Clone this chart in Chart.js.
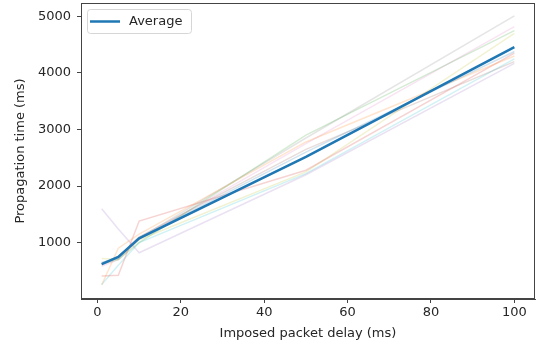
<!DOCTYPE html>
<html>
<head>
<meta charset="utf-8">
<script src="https://cdn.jsdelivr.net/npm/chart.js@4/dist/chart.umd.min.js"></script>
<style>
  html, body { margin: 0; padding: 0; background: #fff; }
  #wrap { width: 539px; height: 350px; }
</style>
</head>
<body>
<div id="wrap"><canvas id="propChart"></canvas></div>
<script>
// imposed packet delay (ms)
var delays = [1, 5, 10, 50, 100];

// single runs, in tab10 colour order
var run0 = [650, 720, 1080, 2600, 4380];
var run1 = [250, 900, 1150, 2780, 4300];
var run2 = [620, 700, 1000, 2900, 4750];
var run3 = [410, 420, 1380, 2280, 4350];
var run4 = [1600, 1240, 820, 2200, 4170];
var run5 = [600, 750, 1100, 2650, 4200];
var run6 = [580, 700, 1060, 2750, 4820];
var run7 = [640, 750, 1080, 2850, 5010];
var run8 = [720, 700, 1050, 2250, 4700];
var run9 = [260, 600, 1000, 2220, 4250];
var runs = [run0, run1, run2, run3, run4, run5, run6, run7, run8, run9];

var average = [620, 745, 1074, 2516, 4459];

var xTicks = [0, 20, 40, 60, 80, 100];
var yTicks = [1000, 2000, 3000, 4000, 5000];

var runColors = [
  'rgba(31, 119, 180, 0.2)',
  'rgba(255, 127, 14, 0.2)',
  'rgba(44, 160, 44, 0.2)',
  'rgba(214, 39, 40, 0.2)',
  'rgba(148, 103, 189, 0.2)',
  'rgba(140, 86, 75, 0.2)',
  'rgba(227, 119, 194, 0.2)',
  'rgba(127, 127, 127, 0.2)',
  'rgba(188, 189, 34, 0.2)',
  'rgba(23, 190, 207, 0.2)',
];

function toPoints(ys) {
  return ys.map(function (y, i) { return { x: delays[i], y: y }; });
}

var datasets = [{
  label: 'Average',
  data: toPoints(average),
  borderColor: '#1f77b4',
  backgroundColor: '#1f77b4',
  borderWidth: 2.5,
  order: 0,
}];
runs.forEach(function (r, i) {
  datasets.push({
    label: 'run ' + i,
    data: toPoints(r),
    borderColor: runColors[i],
    backgroundColor: runColors[i],
    borderWidth: 1.5,
    order: 1,
  });
});

// full box round the plot area, and a matplotlib-style legend in the corner
var boxPlugin = {
  id: 'box',
  afterDraw: function (chart) {
    var ctx = chart.ctx, a = chart.chartArea;
    ctx.save();
    ctx.strokeStyle = '#444';
    ctx.lineWidth = 1;
    ctx.strokeRect(Math.round(a.left) + 0.5, Math.round(a.top) + 0.5,
      Math.round(a.right - a.left) - 1, Math.round(a.bottom - a.top) - 1);

    // legend
    var ds = chart.data.datasets[0];
    var x = a.left + 6, y = a.top + 6;
    ctx.fillStyle = 'rgba(255,255,255,0.8)';
    ctx.strokeStyle = '#d6d6d6';
    ctx.beginPath();
    ctx.roundRect(x + 0.5, y + 0.5, 104, 24, 3);
    ctx.fill();
    ctx.stroke();
    ctx.strokeStyle = ds.borderColor;
    ctx.lineWidth = 2.5;
    ctx.beginPath();
    ctx.moveTo(x + 3, y + 12.5);
    ctx.lineTo(x + 33, y + 12.5);
    ctx.stroke();
    ctx.fillStyle = '#262626';
    ctx.font = '13px "DejaVu Sans", sans-serif';
    ctx.textBaseline = 'middle';
    ctx.fillText(ds.label, x + 42, y + 13);
    ctx.restore();
  },
};

Chart.defaults.font.family = '"DejaVu Sans", sans-serif';
Chart.defaults.font.size = 13;
Chart.defaults.color = '#262626';

new Chart('propChart', {
  type: 'line',
  data: { datasets: datasets },
  plugins: [boxPlugin],
  options: {
    responsive: true,
    maintainAspectRatio: false,
    animation: false,
    elements: { point: { radius: 0 }, line: { tension: 0 } },
    layout: { padding: { top: 3, right: 4, left: 0, bottom: 0 } },
    plugins: {
      tooltip: { enabled: false },
      legend: { display: false },
    },
    scales: {
      x: {
        type: 'linear',
        min: -3.95,
        max: 104.95,
        afterBuildTicks: function (axis) {
          axis.ticks = xTicks.map(function (v) { return { value: v }; });
        },
        afterFit: function (axis) {
          axis.height = 51;
          axis.paddingLeft = 0;
          axis.paddingRight = 0;
        },
        grid: { display: true, drawOnChartArea: false, drawTicks: true, tickLength: 4, color: '#444' },
        border: { display: true, color: '#444' },
        ticks: { padding: 2, maxRotation: 0, autoSkip: false, callback: function (v) { return String(v); } },
        title: { display: true, text: 'Imposed packet delay (ms)', padding: { top: 0, bottom: 9 } },
      },
      y: {
        type: 'linear',
        min: 2,
        max: 5238,
        afterBuildTicks: function (axis) {
          axis.ticks = yTicks.map(function (v) { return { value: v }; });
        },
        afterFit: function (axis) {
          axis.width = 81;
          axis.paddingTop = 0;
          axis.paddingBottom = 0;
        },
        grid: { display: true, drawOnChartArea: false, drawTicks: true, tickLength: 4, color: '#444' },
        border: { display: true, color: '#444' },
        ticks: { padding: 6, autoSkip: false, callback: function (v) { return String(v); } },
        title: { display: true, text: 'Propagation time (ms)', padding: { top: 13, bottom: 4 } },
      },
    },
  },
});
</script>
</body>
</html>
